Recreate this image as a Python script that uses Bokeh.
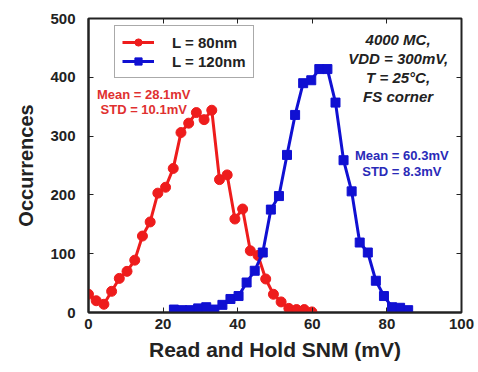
from bokeh.plotting import figure
from bokeh.models import Range1d, LinearAxis, Legend, LegendItem, Label, FixedTicker, ColumnDataSource
from bokeh.embed import file_html
from bokeh.resources import INLINE

# Data
snm_80 = [0.0, 2.07, 4.13, 6.2, 8.26, 10.33, 12.4, 14.46, 16.53, 18.59, 20.66, 22.72, 24.79,
          26.86, 28.92, 30.99, 33.05, 35.12, 37.18, 39.25, 41.32, 43.38, 45.45, 47.51, 49.58,
          51.64, 53.71, 55.78, 57.84, 59.9]
occ_80 = [31, 20, 14, 36, 58, 70, 89, 130, 154, 203, 213, 245, 306, 322, 340, 328, 344, 226,
          234, 159, 176, 105, 97, 57, 31, 18, 7, 5, 5, 1]
snm_120 = [22.9, 25.07, 27.23, 29.4, 31.56, 33.73, 35.9, 38.06, 40.23, 42.39, 44.56, 46.72,
           48.89, 51.06, 53.22, 55.39, 57.55, 59.72, 61.88, 64.05, 66.22, 68.38, 70.55, 72.71,
           74.88, 77.04, 79.21, 81.38, 83.54, 85.7]
occ_120 = [5, 4, 4, 7, 9, 5, 13, 23, 28, 51, 71, 102, 175, 198, 268, 336, 390, 395, 414, 414,
           357, 259, 206, 119, 102, 54, 28, 9, 8, 4]
x_ticks = [0, 20, 40, 60, 80, 100]
y_ticks = [0, 100, 200, 300, 400, 500]
series_labels = ["L = 80nm", "L = 120nm"]
note_lines = ["4000 MC,", "VDD = 300mV,", "T = 25°C,", "FS corner"]
stats_80 = ["Mean = 28.1mV", "STD = 10.1mV"]
stats_120 = ["Mean = 60.3mV", "STD = 8.3mV"]

RED = "#ee1c1c"
BLUE = "#1010d2"
FONT = "Liberation Sans"
AX = "#222222"

p = figure(width=478, height=372, output_backend="svg", toolbar_location=None,
           x_range=Range1d(0, 100), y_range=Range1d(0, 500),
           min_border_left=88, min_border_right=17, min_border_top=18, min_border_bottom=60)
p.xgrid.visible = False
p.ygrid.visible = False
p.outline_line_color = AX
p.outline_line_width = 2
p.background_fill_color = "white"
p.border_fill_color = "white"

for ax in [p.xaxis[0], p.yaxis[0]]:
    ax.major_label_text_font = FONT
    ax.major_label_text_font_style = "bold"
    ax.major_label_text_font_size = "15px"
    ax.major_label_text_color = AX
    ax.axis_label_text_font = FONT
    ax.axis_label_text_font_style = "bold"
    ax.axis_label_text_font_size = "20px"
    ax.axis_label_text_color = AX
    ax.axis_line_color = AX
    ax.axis_line_width = 2
    ax.major_tick_in = 5
    ax.major_tick_out = 0
    ax.major_tick_line_color = AX
    ax.minor_tick_line_color = None

p.xaxis[0].ticker = FixedTicker(ticks=x_ticks)
p.yaxis[0].ticker = FixedTicker(ticks=y_ticks)
p.xaxis[0].axis_label = "Read and Hold SNM (mV)"
p.yaxis[0].axis_label = "Occurrences"
p.xaxis[0].axis_label_text_font_size = "21px"
p.xaxis[0].major_label_standoff = 6
p.yaxis[0].major_label_standoff = 13
p.xaxis[0].axis_label_standoff = 6
p.yaxis[0].axis_label_standoff = 10

for loc, tk in [("right", y_ticks), ("above", x_ticks)]:
    a = LinearAxis(ticker=FixedTicker(ticks=tk),
                   major_label_overrides={t: "" for t in tk},
                   axis_line_color=None, major_tick_in=5, major_tick_out=0,
                   major_tick_line_color=AX, minor_tick_line_color=None)
    p.add_layout(a, loc)

s80 = ColumnDataSource(dict(x=snm_80, y=occ_80))
s120 = ColumnDataSource(dict(x=snm_120, y=occ_120))
l80 = p.line("x", "y", source=s80, line_color=RED, line_width=3)
m80 = p.scatter("x", "y", source=s80, marker="circle", size=10, fill_color=RED, line_color=RED)
l120 = p.line("x", "y", source=s120, line_color=BLUE, line_width=3)
m120 = p.scatter("x", "y", source=s120, marker="square", size=9, fill_color=BLUE, line_color=BLUE)

legend = Legend(items=[LegendItem(label=series_labels[0], renderers=[l80, m80]),
                       LegendItem(label=series_labels[1], renderers=[l120, m120])],
                location=(26, 234), label_text_font=FONT, label_text_font_style="bold",
                label_text_font_size="15px", label_text_color=AX,
                glyph_width=32, glyph_height=18, label_standoff=18, spacing=1,
                padding=7, margin=0, border_line_color="#555555", border_line_width=1.5,
                label_height=18)
p.add_layout(legend, "center")

for i, t in enumerate(note_lines):
    p.add_layout(Label(x=83.0, y=465 - i * 32.5, text=t, text_align="center",
                       text_baseline="middle", text_font=FONT, text_font_style="bold italic",
                       text_font_size="15px", text_color=AX))
for i, t in enumerate(stats_80):
    p.add_layout(Label(x=14.8, y=370 - i * 24, text=t, text_align="center",
                       text_baseline="middle", text_font=FONT, text_font_style="bold",
                       text_font_size="13px", text_color="#e03030"))
for i, t in enumerate(stats_120):
    p.add_layout(Label(x=84.0, y=267 - i * 27, text=t, text_align="center",
                       text_baseline="middle", text_font=FONT, text_font_style="bold",
                       text_font_size="13px", text_color="#2a2ab8"))

open("out.html", "w").write(file_html(p, INLINE))
